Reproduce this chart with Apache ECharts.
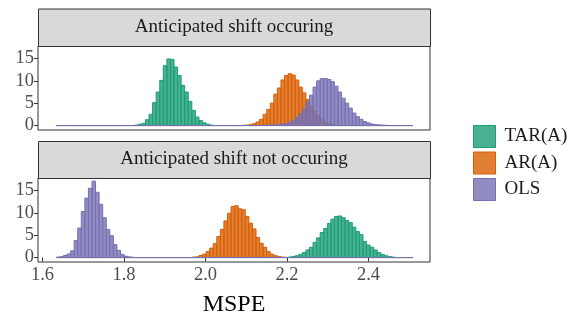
<!DOCTYPE html>
<html>
<head>
<meta charset="utf-8">
<script src="https://cdn.jsdelivr.net/npm/echarts@6/dist/echarts.min.js"></script>
<style>
html, body { margin: 0; padding: 0; background: #fff; }
#chart { width: 570px; height: 313px; }
</style>
</head>
<body>
<div id="chart"></div>
<script>
// histogram bins, shared by both facets
var binStart = 1.634;
var binWidth = 0.00875;
var binCount = 100;

var xTicks = [1.6, 1.8, 2.0, 2.2, 2.4];
var yTicks = [0, 5, 10, 15];
var panelTitles = ['Anticipated shift occuring', 'Anticipated shift not occuring'];
var models = ['TAR(A)', 'AR(A)', 'OLS'];
var lineColors = ['#1b9e77', '#d95f02', '#7570b3'];
var fillColors = ['rgba(27,158,119,0.8)', 'rgba(217,95,2,0.8)', 'rgba(117,112,179,0.8)'];

// density per bin : first non empty bin + values
var topTarFrom = 22;
var topTar = [0.1, 0.3, 0.5, 1.3, 2.5, 5.1, 7.5, 10.1, 13.4, 14.9, 14.8, 13.1, 11.2, 9.0, 7.5, 5.4, 3.4, 1.9, 1.1, 0.6, 0.3, 0.1];
var topArFrom = 52;
var topAr = [0.05, 0.1, 0.2, 0.4, 0.8, 1.4, 2.5, 3.6, 5.0, 7.0, 8.4, 10.2, 11.2, 11.6, 11.3, 10.2, 8.6, 7.3, 5.8, 4.4, 3.2, 2.2, 1.4, 0.8, 0.5, 0.25, 0.1];
var topOlsFrom = 58;
var topOls = [0.05, 0.08, 0.1, 0.15, 0.2, 0.3, 0.45, 0.7, 1.1, 1.8, 2.6, 3.7, 5.2, 6.8, 8.6, 10.0, 10.5, 10.5, 10.3, 9.8, 8.8, 7.5, 6.1, 5.0, 3.9, 2.8, 2.0, 1.4, 0.9, 0.6, 0.35, 0.2, 0.15, 0.1, 0.05];

var botTarFrom = 64;
var botTar = [0.05, 0.1, 0.25, 0.4, 0.7, 1.1, 1.7, 2.3, 3.4, 4.4, 5.6, 6.5, 7.6, 8.6, 9.2, 9.3, 8.9, 8.3, 7.8, 6.8, 5.8, 5.1, 3.6, 2.8, 2.3, 1.7, 1.1, 0.7, 0.4, 0.2, 0.1];
var botArFrom = 38;
var botAr = [0.1, 0.15, 0.45, 0.75, 1.35, 2.1, 3.1, 4.7, 6.3, 8.2, 9.9, 11.4, 11.6, 10.9, 10.7, 9.2, 7.7, 6.4, 4.5, 3.2, 2.3, 1.3, 0.75, 0.4, 0.2, 0.1];
var botOlsFrom = 0;
var botOls = [0.1, 0.2, 0.45, 0.8, 1.5, 3.8, 6.6, 10.3, 13.3, 15.5, 17.1, 14.6, 11.9, 8.9, 6.3, 4.9, 2.9, 1.6, 0.7, 0.3, 0.15, 0.05];

var serif = 'Liberation Serif';

// every bin gets a rect, empty ones too (ggplot draws their outline)
function bins(from, vals) {
    var out = [];
    for (var i = 0; i < binCount; i++) {
        var h = (i >= from && i < from + vals.length) ? vals[i - from] : 0;
        var x0 = binStart + i * binWidth;
        out.push([x0, x0 + binWidth, h]);
    }
    return out;
}

function histSeries(k, panel, from, vals) {
    return {
        name: models[k],
        type: 'custom',
        xAxisIndex: panel,
        yAxisIndex: panel,
        itemStyle: { color: fillColors[k] },
        encode: { x: [0, 1], y: 2 },
        data: bins(from, vals),
        silent: true,
        renderItem: function (params, api) {
            var a = api.coord([api.value(0), api.value(2)]);
            var b = api.coord([api.value(1), 0]);
            return {
                type: 'rect',
                shape: { x: a[0], y: a[1], width: b[0] - a[0], height: b[1] - a[1] },
                style: { fill: fillColors[k], stroke: lineColors[k], lineWidth: 1 }
            };
        }
    };
}

var grids = [
    { left: 38, top: 46, width: 392, height: 84 },
    { left: 38, top: 178, width: 392, height: 84 }
];

var chart = echarts.init(document.getElementById('chart'));

var xAxes = [], yAxes = [], graphics = [];
grids.forEach(function (g, p) {
    g.show = true;
    g.borderColor = '#333';
    g.borderWidth = 1;
    g.backgroundColor = '#fff';
    xAxes.push({
        type: 'value', gridIndex: p, min: 1.589, max: 2.551,
        axisLine: { show: false },
        splitLine: { show: false },
        axisTick: { show: p == 1, customValues: xTicks, length: 4, lineStyle: { color: '#333' } },
        axisLabel: {
            show: p == 1, customValues: xTicks, margin: 4,
            fontFamily: serif, fontSize: 18.5, color: '#4d4d4d',
            formatter: function (v) { return v.toFixed(1); }
        }
    });
    yAxes.push({
        type: 'value', gridIndex: p, min: -1, max: 17.8,
        axisLine: { show: false },
        splitLine: { show: false },
        axisTick: { show: true, customValues: yTicks, length: 4, lineStyle: { color: '#333' } },
        axisLabel: { customValues: yTicks, margin: 4, fontFamily: serif, fontSize: 18.5, color: '#4d4d4d' }
    });
    // facet strip
    var sy = p == 0 ? 8.5 : 141;
    graphics.push({
        type: 'rect', left: g.left, top: sy,
        shape: { width: g.width, height: g.top - sy },
        style: { fill: '#d9d9d9', stroke: '#333', lineWidth: 1 }
    });
    graphics.push({
        type: 'text', x: g.left + g.width / 2, y: (sy + g.top) / 2,
        style: { text: panelTitles[p], fontFamily: serif, fontSize: 19, fill: '#1a1a1a',
                 textAlign: 'center', textVerticalAlign: 'middle' }
    });
});
graphics.push({
    type: 'text', x: 234, y: 305,
    style: { text: 'MSPE', fontFamily: serif, fontSize: 24, fill: '#000',
             textAlign: 'center', textVerticalAlign: 'middle' }
});

chart.setOption({
    animation: false,
    backgroundColor: '#fff',
    grid: grids,
    xAxis: xAxes,
    yAxis: yAxes,
    graphic: graphics,
    legend: {
        orient: 'vertical',
        left: 468,
        top: 120,
        itemWidth: 22,
        itemHeight: 22,
        itemGap: 3.5,
        icon: 'rect',
        selectedMode: false,
        textStyle: { fontFamily: serif, fontSize: 19, color: '#1a1a1a', padding: [0, 0, 0, 4] },
        data: models.map(function (m, k) {
            return { name: m, itemStyle: { color: fillColors[k], borderColor: lineColors[k], borderWidth: 1 } };
        })
    },
    series: [
        histSeries(0, 0, topTarFrom, topTar),
        histSeries(1, 0, topArFrom, topAr),
        histSeries(2, 0, topOlsFrom, topOls),
        histSeries(0, 1, botTarFrom, botTar),
        histSeries(1, 1, botArFrom, botAr),
        histSeries(2, 1, botOlsFrom, botOls)
    ]
});
</script>
</body>
</html>
